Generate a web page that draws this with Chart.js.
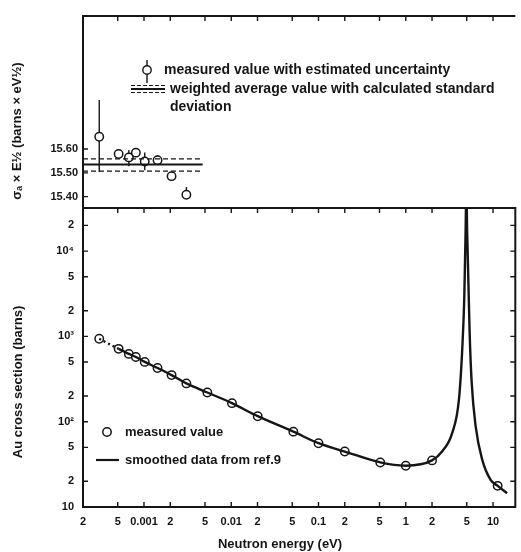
<!DOCTYPE html>
<html><head><meta charset="utf-8">
<script src="https://cdn.jsdelivr.net/npm/chart.js@4/dist/chart.umd.min.js"></script>
<style>html,body{margin:0;padding:0;background:#fff}#wrap{position:relative;width:521px;height:552px}</style>
</head><body><div id="wrap"><canvas id="c" width="521" height="552"></canvas></div>
<script>
const INK = '#151515';
const FONT = '"Liberation Sans", Arial, sans-serif';

// measured total cross sections (lower panel)
const measuredEnergy = [3.07e-4, 5.12e-4, 6.71e-4, 8.07e-4, 1.02e-3, 1.43e-3, 2.07e-3, 3.06e-3, 5.32e-3, 0.0102, 0.0201, 0.0515, 0.1, 0.2, 0.51, 1.0, 2.0, 11.3];
const measuredSigma  = [937, 714, 623, 574, 502, 426, 352, 281, 220, 165, 116, 76.4, 55.9, 44.7, 33.3, 30.5, 35.2, 17.7];

// smoothed data from ref. 9
const curveEnergy = [3.07e-4, 5.12e-4, 6.71e-4, 8.07e-4, 1.02e-3, 1.43e-3, 2.07e-3, 3.06e-3, 5.32e-3, 0.0102, 0.0201, 0.0515, 0.1, 0.2, 0.51, 1.0, 2.0, 2.62, 3.41, 4.07, 4.44, 4.68, 4.85, 4.95, 5.05, 5.39, 5.69, 6.32, 7.52, 9.38, 11.3, 14.5];
const curveSigma  = [937, 714, 623, 574, 502, 426, 352, 281, 220, 165, 116, 76.4, 55.9, 44.7, 33.3, 30.5, 35.2, 45, 74, 183, 715, 2780, 17200, 60000, 17200, 1130, 291, 88.7, 35.9, 20.8, 17.7, 14.5];

// upper panel: sigma_a * E^1/2 with uncertainty
const topEnergy   = [3.07e-4, 5.12e-4, 6.71e-4, 8.07e-4, 1.02e-3, 1.43e-3, 2.07e-3, 3.06e-3];
const topValue    = [15.652, 15.579, 15.565, 15.585, 15.548, 15.553, 15.486, 15.408];
const topErrLow   = [15.503, 15.566, 15.528, 15.572, 15.511, 15.535, 15.472, 15.392];
const topErrHigh  = [15.807, 15.594, 15.596, 15.598, 15.586, 15.575, 15.500, 15.440];

// weighted average and its standard deviation
const avgValue = 15.535, avgLow = 15.507, avgHigh = 15.559;
const avgEnergyRange = [2e-4, 4.7e-3];

const xTickValues = [2e-4, 5e-4, 1e-3, 2e-3, 5e-3, 0.01, 0.02, 0.05, 0.1, 0.2, 0.5, 1, 2, 5, 10];
const xTickLabels = ['2', '5', '0.001', '2', '5', '0.01', '2', '5', '0.1', '2', '5', '1', '2', '5', '10'];
const yTickValues = [10, 20, 50, 100, 200, 500, 1000, 2000, 5000, 10000, 20000];
const yTickLabels = ['10', '2', '5', '10²', '2', '5', '10³', '2', '5', '10⁴', '2'];
const topTickValues = [15.40, 15.50, 15.60];
const topTickLabels = ['15.40', '15.50', '15.60'];

const TOP_H = 192, LOW_H = 299;

const pts = (xs, ys) => xs.map((x, i) => ({x, y: ys[i]}));
const flat = (v) => avgEnergyRange.map(x => ({x, y: v}));

const decor = {
  id: 'decor',
  beforeDatasetsDraw(chart) {
    const ctx = chart.ctx, xs = chart.scales.x, yt = chart.scales.yTop;
    ctx.save();
    ctx.strokeStyle = INK; ctx.lineWidth = 1.4;
    topEnergy.forEach((e, i) => {
      const px = xs.getPixelForValue(e);
      ctx.beginPath();
      ctx.moveTo(px, yt.getPixelForValue(topErrLow[i]));
      ctx.lineTo(px, yt.getPixelForValue(topErrHigh[i]));
      ctx.stroke();
    });
    ctx.restore();
  },
  afterDraw(chart) {
    const ctx = chart.ctx, xs = chart.scales.x, yt = chart.scales.yTop, y = chart.scales.y;
    const L = xs.left, R = xs.right;
    ctx.save();
    ctx.strokeStyle = INK; ctx.fillStyle = INK; ctx.lineWidth = 2;
    // frames
    ctx.beginPath();
    ctx.moveTo(L, yt.bottom); ctx.lineTo(L, yt.top); ctx.lineTo(R, yt.top);
    ctx.stroke();
    ctx.strokeRect(L, y.top, R - L, y.bottom - y.top);
    // ticks
    ctx.lineWidth = 1.4;
    const T = 5;
    ctx.beginPath();
    xTickValues.forEach(v => {
      const px = xs.getPixelForValue(v);
      ctx.moveTo(px, y.bottom); ctx.lineTo(px, y.bottom - T);
      ctx.moveTo(px, y.top); ctx.lineTo(px, y.top + T);
      ctx.moveTo(px, yt.top); ctx.lineTo(px, yt.top + T);
    });
    yTickValues.forEach(v => {
      const py = y.getPixelForValue(v);
      ctx.moveTo(L, py); ctx.lineTo(L + T, py);
      ctx.moveTo(R, py); ctx.lineTo(R - T, py);
    });
    topTickValues.forEach(v => {
      const py = yt.getPixelForValue(v);
      ctx.moveTo(L, py); ctx.lineTo(L + T, py);
    });
    ctx.stroke();

    // legend upper panel
    ctx.lineWidth = 1.4;
    ctx.beginPath(); ctx.moveTo(147, 60); ctx.lineTo(147, 83); ctx.stroke();
    ctx.beginPath(); ctx.arc(147, 70, 4.2, 0, Math.PI * 2);
    ctx.fillStyle = '#fff'; ctx.fill(); ctx.stroke();
    ctx.fillStyle = INK;
    ctx.lineWidth = 1.2;
    ctx.setLineDash([4, 2]);
    ctx.beginPath(); ctx.moveTo(131, 85.5); ctx.lineTo(165, 85.5); ctx.moveTo(131, 92.5); ctx.lineTo(165, 92.5); ctx.stroke();
    ctx.setLineDash([]);
    ctx.lineWidth = 1.8;
    ctx.beginPath(); ctx.moveTo(131, 89); ctx.lineTo(165, 89); ctx.stroke();

    ctx.font = 'bold 14px ' + FONT;
    ctx.textBaseline = 'middle'; ctx.textAlign = 'left';
    ctx.fillText('measured value with estimated uncertainty', 164, 70);
    ctx.fillText('weighted average value with calculated standard', 170, 89);
    ctx.fillText('deviation', 170, 107);

    // legend lower panel
    ctx.lineWidth = 1.5;
    ctx.beginPath(); ctx.arc(107, 432, 4.2, 0, Math.PI * 2);
    ctx.fillStyle = '#fff'; ctx.fill(); ctx.stroke();
    ctx.fillStyle = INK;
    ctx.lineWidth = 2.2;
    ctx.beginPath(); ctx.moveTo(96, 460); ctx.lineTo(119, 460); ctx.stroke();
    ctx.font = 'bold 13px ' + FONT;
    ctx.fillText('measured value', 125, 432);
    ctx.fillText('smoothed data from ref.9', 125, 460);

    // axis titles
    ctx.font = 'bold 13px ' + FONT;
    ctx.textAlign = 'center';
    ctx.fillText('Neutron energy (eV)', 280, 544);
    ctx.save(); ctx.translate(18, 382); ctx.rotate(-Math.PI / 2);
    ctx.fillText('Au cross section (barns)', 0, 0); ctx.restore();
    ctx.save(); ctx.translate(17, 131); ctx.rotate(-Math.PI / 2);
    ctx.fillText('σₐ × E½ (barns × eV½)', 0, 0); ctx.restore();
    ctx.restore();
  }
};

const tickFont = {family: FONT, size: 11, weight: 'bold'};
const noGrid = { display: false, drawTicks: false, tickLength: 0 };

new Chart(document.getElementById('c'), {
  type: 'scatter',
  data: {
    datasets: [
      { type: 'line', label: 'smoothed data from ref.9', data: pts(curveEnergy, curveSigma), yAxisID: 'y',
        borderColor: INK, borderWidth: 2.4, pointRadius: 0, fill: false,
        cubicInterpolationMode: 'monotone',
        segment: { borderDash: c => c.p0DataIndex === 0 ? [2, 3] : undefined },
        clip: 0 },
      { label: 'measured value', data: pts(measuredEnergy, measuredSigma), yAxisID: 'y',
        pointRadius: 4.2, pointBorderWidth: 1.5, pointBackgroundColor: '#fff', pointBorderColor: INK, borderColor: INK },
      { type: 'line', label: 'avg', data: flat(avgValue), yAxisID: 'yTop', borderColor: INK, borderWidth: 2, pointRadius: 0 },
      { type: 'line', label: 'avg+', data: flat(avgHigh), yAxisID: 'yTop', borderColor: INK, borderWidth: 1.2, borderDash: [5, 3], pointRadius: 0 },
      { type: 'line', label: 'avg-', data: flat(avgLow), yAxisID: 'yTop', borderColor: INK, borderWidth: 1.2, borderDash: [5, 3], pointRadius: 0 },
      { label: 'measured value with estimated uncertainty', data: pts(topEnergy, topValue), yAxisID: 'yTop',
        pointRadius: 4.2, pointBorderWidth: 1.5, pointBackgroundColor: '#fff', pointBorderColor: INK, borderColor: INK }
    ]
  },
  options: {
    responsive: false, animation: false, devicePixelRatio: 1,
    layout: { padding: {top: 16, right: 4, left: 0, bottom: 0} },
    plugins: { legend: {display: false}, tooltip: {enabled: false} },
    scales: {
      x: { type: 'logarithmic', position: 'bottom', min: 2e-4, max: 18,
        afterBuildTicks: s => { s.ticks = xTickValues.map(v => ({value: v})); },
        afterFit: s => { s.height = 45; },
        ticks: { autoSkip: false, maxRotation: 0, minRotation: 0, padding: 8, color: INK, font: tickFont,
          callback: (v, i) => xTickLabels[i] },
        grid: noGrid, border: { display: false } },
      y: { type: 'logarithmic', position: 'left', stack: 'v', stackWeight: LOW_H, min: 10, max: 32000,
        afterBuildTicks: s => { s.ticks = yTickValues.map(v => ({value: v})); },
        afterFit: s => { s.width = 83; },
        ticks: { autoSkip: false, padding: 9, color: INK, font: tickFont, callback: (v, i) => yTickLabels[i] },
        grid: noGrid, border: { display: false } },
      yTop: { type: 'linear', position: 'left', stack: 'v', stackWeight: TOP_H, min: 15.352, max: 16.16,
        afterBuildTicks: s => { s.ticks = topTickValues.map(v => ({value: v})); },
        afterFit: s => { s.width = 83; },
        ticks: { autoSkip: false, padding: 5, color: INK, font: tickFont, callback: (v, i) => topTickLabels[i] },
        grid: noGrid, border: { display: false } }
    }
  },
  plugins: [decor]
});
</script></body></html>
